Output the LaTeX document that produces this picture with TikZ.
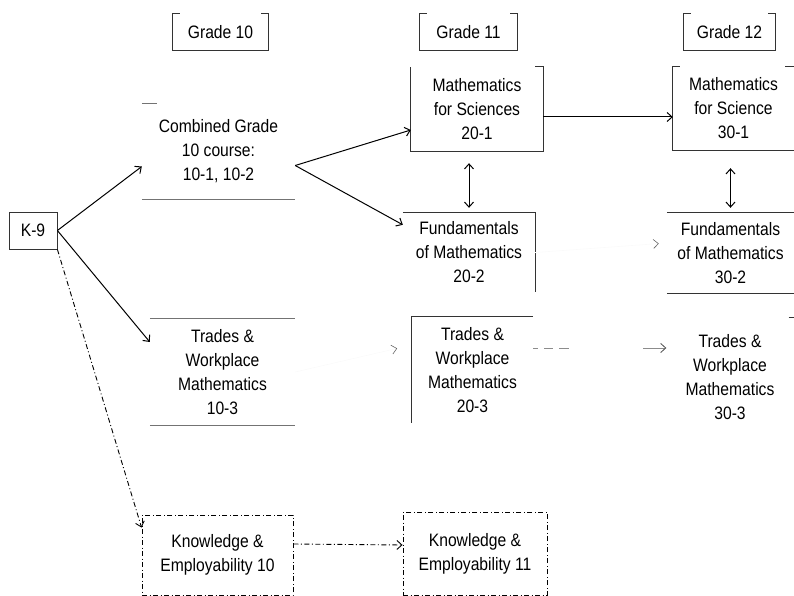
\documentclass[tikz,border=0pt]{standalone}
\usepackage{fontspec}
\setmainfont[FakeStretch=0.87]{Liberation Sans}
\usetikzlibrary{arrows.meta,calc}

\begin{document}
\begin{tikzpicture}[
    x=1pt, y=-1pt,
    >={Straight Barb[length=5pt,width=9pt]},
    font=\fontsize{18}{24}\selectfont,
    course/.style 2 args={
      align=center,
      inner sep=0pt,
      minimum width=#1,
      minimum height=#2
    },
    edge/.style={line width=0.8pt, black!80},
    rule/.style={line width=1pt, black!55},
    link/.style={->, line width=1pt},
    dashdot/.style={line width=0.9pt,
      dash pattern=on 5pt off 2.5pt on 1pt off 2.5pt},
    faded/.style={draw=black!2, line width=0.6pt,
      -{Straight Barb[length=5pt,width=9pt,color=black!60]}}
  ]
  \clip (0,0) rectangle (794,596);
  % grade headers
  \node[course={95}{36}] (g10) at (220.5,32) {Grade 10};
  \node[course={97}{36}] (g11) at (468.5,32) {Grade 11};
  \node[course={91}{36}] (g12) at (729.5,32) {Grade 12};
  \foreach \g in {g10,g11,g12}
    \draw[edge] ([xshift=7pt]\g.north west) -- (\g.north west) -- (\g.south west)
      -- (\g.south east) -- (\g.north east) -- ([xshift=-7pt]\g.north east);

  % courses
  \node[course={48}{37}, draw, edge, text=black] (k9) at (33,230.5) {K-9};
  \node[course={153}{95}] (comb) at (218.5,151.5)
    {Combined Grade\\10 course:\\10-1, 10-2};
  \node[course={145}{106}] (t103) at (222.5,372)
    {Trades \&\\Workplace\\Mathematics\\10-3};
  \node[course={132}{84}] (m201) at (477,109)
    {Mathematics\\for Sciences\\20-1};
  \node[course={132}{79}] (f202) at (469,252.5)
    {Fundamentals\\of Mathematics\\20-2};
  \node[course={121}{106}] (t203) at (472.5,370)
    {Trades \&\\Workplace\\Mathematics\\20-3};
  \node[course={121}{83}] (m301) at (733.5,108.5)
    {Mathematics\\for Science\\30-1};
  \node[course={127}{80}] (f302) at (730.5,253)
    {Fundamentals\\of Mathematics\\30-2};
  \node[course={127}{106}] (t303) at (730,377)
    {Trades \&\\Workplace\\Mathematics\\30-3};
  \node[course={151}{80}, draw, dashdot] (ke10) at (217.5,555)
    {Knowledge \&\\Employability 10};
  \node[course={144}{83}, draw, dashdot] (ke11) at (475,553.5)
    {Knowledge \&\\Employability 11};

  % what is left of the box outlines
  \draw[rule] (comb.south west) -- (comb.south east);
  \draw[rule] (comb.north west) -- ([xshift=15pt]comb.north west);
  \draw[rule] (t103.north west) -- (t103.north east)
              (t103.south west) -- (t103.south east);
  \draw[edge] ([xshift=-8pt]m201.north east) -- (m201.north east)
    -- (m201.south east) -- (m201.south west) -- (m201.north west);
  \draw[edge] (f202.north west) -- (f202.north east) -- (f202.south east);
  \draw[edge] ([xshift=7pt]m301.north west) -- (m301.north west)
    -- (m301.south west) -- (m301.south east);
  \draw[edge] ([xshift=-9pt]m301.north east) -- (m301.north east);
  \draw[edge] (f302.north west) -- (f302.north east)
              (f302.south west) -- (f302.south east);
  \draw[edge] (t203.north east) -- (t203.north west) -- (t203.south west);
  \draw[edge] ([xshift=-5pt,yshift=6pt]t303.north east)
    -- ([yshift=6pt]t303.north east);

  % pathways
  \draw[link] (k9.east) -- ([yshift=-15pt]comb.west);
  \draw[link] (k9.east) -- ([yshift=30pt]t103.west);
  \draw[link, dashdot] (k9.south east) -- ([yshift=-13pt]ke10.north west);
  \draw[link] ([yshift=-14pt]comb.east) -- ([yshift=-21pt]m201.west);
  \draw[link] ([yshift=-14pt]comb.east) -- ([yshift=-12pt]f202.north west);
  \draw[<->, line width=1pt] ([yshift=-12pt]m201.south -| f202.north)
    -- ([yshift=5pt]f202.north);
  \draw[link] ([yshift=-8pt]m201.east) -- ([yshift=-8.5pt]m301.west);
  \draw[<->, line width=1pt] ([yshift=-18pt]m301.south -| f302.north)
    -- ([yshift=5pt]f302.north);
  \draw[faded, shorten >=8pt] (f202.east) -- ([yshift=10pt]f302.west);
  \draw[faded, shorten >=15pt] (t103.east) -- ([yshift=25pt]t203.west);
  \draw[line width=0.8pt, draw=black!45,
    dash pattern=on 5pt off 6pt on 9pt off 6pt on 10pt off 74pt on 40pt,
    -{Straight Barb[length=5pt,width=9pt,color=black!70]}]
    ([yshift=22pt]t203.east) -- ([yshift=29pt]t303.west);
  \draw[link, dashdot] ([yshift=11pt]ke10.east) -- ([yshift=8.5pt]ke11.west);
\end{tikzpicture}
\end{document}
